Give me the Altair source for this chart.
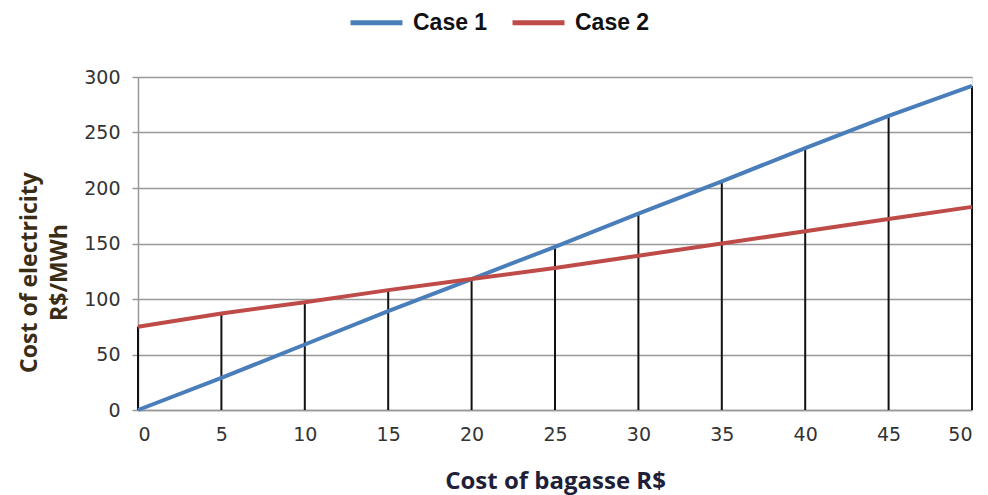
import altair as alt
import pandas as pd

x_vals = [0, 5, 10, 15, 20, 25, 30, 35, 40, 45, 50]
case1 = [0, 29, 59, 89, 118, 147, 177, 206, 236, 265, 292]
case2 = [75, 87, 97, 108, 118, 128, 139, 150, 161, 172, 183]
series_names = ["Case 1", "Case 2"]
colors = ["#4a7ebb", "#be4b48"]
y_ticks = [0, 50, 100, 150, 200, 250, 300]

rows = []
for name, vals in zip(series_names, [case1, case2]):
    for xv, yv in zip(x_vals, vals):
        rows.append({"x": xv, "y": yv, "series": name})
df = pd.DataFrame(rows)
drop = pd.DataFrame({"x": x_vals, "top": [max(a, b) for a, b in zip(case1, case2)]})

xscale = alt.Scale(domain=[0, 50], nice=False)
yscale = alt.Scale(domain=[0, 300], nice=False)

label_font = "DejaVu Sans"
title_font = "Open Sans"

xaxis = alt.Axis(values=x_vals, title="Cost of bagasse R$", grid=False, ticks=False,
                 labelFont=label_font, labelFontSize=19, labelColor="#333",
                 titleFont=title_font, titleFontSize=24, titleFontWeight="bold",
                 titleColor="#1f1f3a", titlePadding=25, labelPadding=15,
                 domainColor="#999", domainWidth=1.5)
yaxis = alt.Axis(values=y_ticks,
                 title=["Cost of electricity", "R$/MWh"],
                 gridColor="#999", gridWidth=1.5,
                 labelFont=label_font, labelFontSize=19, labelColor="#333",
                 titleFont=title_font, titleFontSize=23, titleFontWeight="bold",
                 titleColor="#3a2d16", titlePadding=12, titleLineHeight=30,
                 titleY=195,
                 labelPadding=12,
                 domainColor="#999", domainWidth=1.5, tickColor="#999", tickSize=6,
                 tickWidth=1.5)

drops = alt.Chart(drop).mark_rule(color="#111", strokeWidth=2).encode(
    x=alt.X("x:Q", scale=xscale, axis=xaxis),
    y=alt.Y("top:Q", scale=yscale, axis=yaxis),
    y2=alt.datum(0),
)

lines = alt.Chart(df).mark_line(strokeWidth=4).encode(
    x=alt.X("x:Q", scale=xscale),
    y=alt.Y("y:Q", scale=yscale),
    color=alt.Color("series:N", scale=alt.Scale(domain=series_names, range=colors),
                    legend=alt.Legend(title=None, orient="none", direction="horizontal",
                                      legendX=210, legendY=-83,
                                      symbolType="stroke", symbolStrokeWidth=5, symbolSize=2700,
                                      labelFont="Liberation Sans", labelFontWeight="bold",
                                      labelFontSize=23, labelColor="#111", columnPadding=14,
                                      labelOffset=8)),
)

chart = alt.layer(drops, lines).properties(
    width=834, height=333,
    padding={"left": 138, "top": 77, "right": 16, "bottom": 85},
    autosize=alt.AutoSizeParams(type="none"),
).configure_view(stroke=None).configure(background="white")

chart.save("out.html", embed_options={"renderer": "svg", "actions": False})
